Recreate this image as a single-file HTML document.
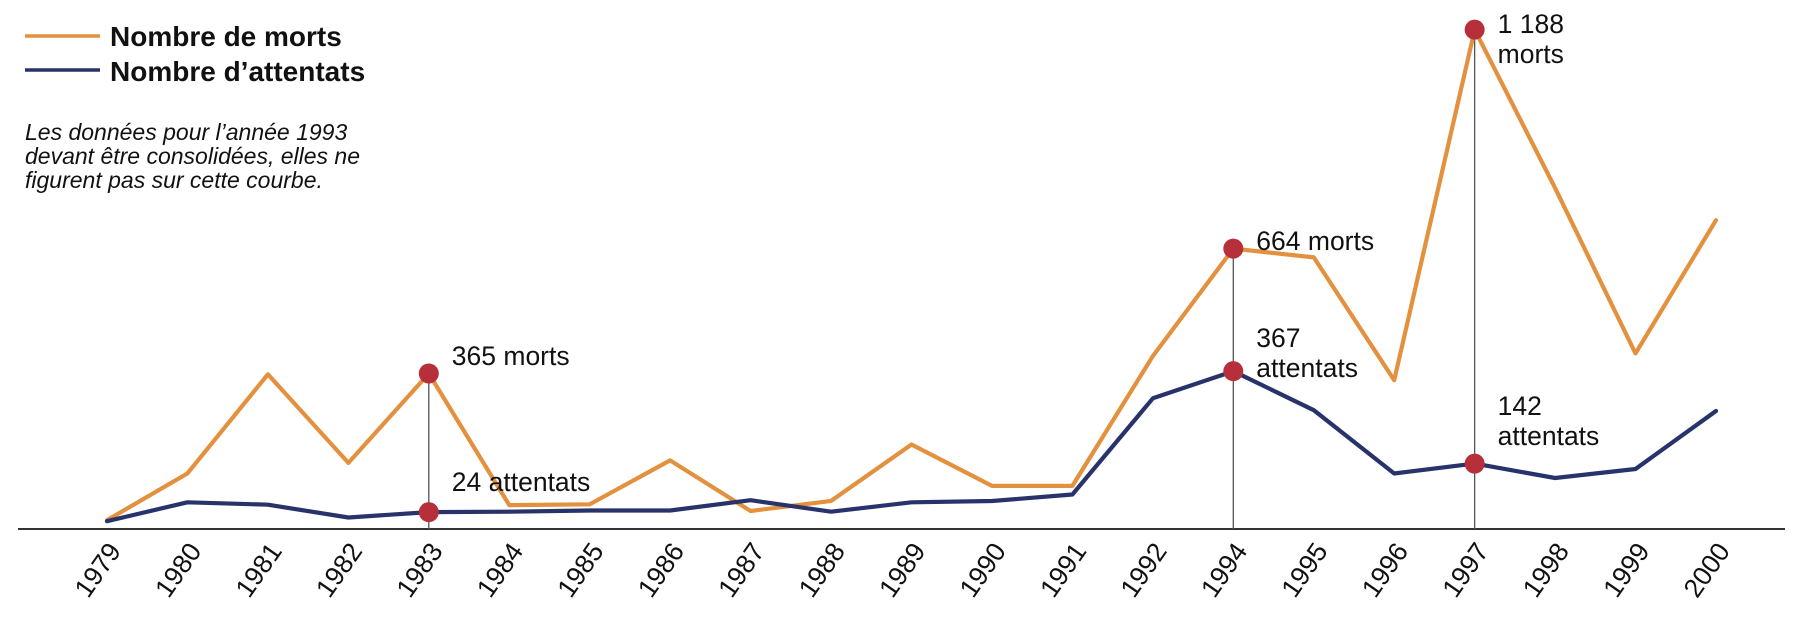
<!DOCTYPE html>
<html><head><meta charset="utf-8"><style>
html,body{margin:0;padding:0;background:#fff;width:1800px;height:628px;overflow:hidden}
svg{display:block;font-family:"Liberation Sans",sans-serif}
</style></head><body>
<svg id="chart" width="1800" height="628" viewBox="0 0 1800 628">
<g>
<line x1="25" y1="36" x2="100" y2="36" stroke="#e3913f" stroke-width="3.5"/>
<text x="110" y="46" font-size="28" font-weight="bold" fill="#111">Nombre de morts</text>
<line x1="25" y1="70" x2="100" y2="70" stroke="#27336a" stroke-width="3.5"/>
<text x="110" y="81" font-size="28" font-weight="bold" fill="#111">Nombre d’attentats</text>
</g>
<g font-size="23" font-style="italic" fill="#111">
<text x="25" y="140">Les données pour l’année 1993</text>
<text x="25" y="164">devant être consolidées, elles ne</text>
<text x="25" y="188">figurent pas sur cette courbe.</text>
</g>
<line x1="18" y1="529" x2="1785" y2="529" stroke="#333" stroke-width="2"/>
<g id="ticks"></g>
<g id="guides"></g>
<g id="lines"></g>
<g id="dots"></g>
<g id="annots" font-size="26.5" fill="#111"></g>
</svg>
<script>
const years = ["1979","1980","1981","1982","1983","1984","1985","1986","1987","1988","1989","1990","1991","1992","1994","1995","1996","1997","1998","1999","2000"];
const morts = [14,126,363,151,365,50,52,157,36,60,195,96,96,407,664,643,349,1188,809,413,732];
const attentats = [2,48,42,11,24,25,28,28,53,25,48,51,67,301,367,272,118,142,107,129,270];
const highlighted = ["1983","1994","1997"];
const NS="http://www.w3.org/2000/svg";
function xPos(i){return 107+i*80.45;}
function yMorts(v){return 526-0.4178*v;}
function yAtt(v){return 522-0.411*v;}
function mk(t,a,p){const e=document.createElementNS(NS,t);for(const k in a)e.setAttribute(k,a[k]);p.appendChild(e);return e;}
const ticks=document.getElementById('ticks'),guides=document.getElementById('guides'),lines=document.getElementById('lines'),dots=document.getElementById('dots'),annots=document.getElementById('annots');
years.forEach((y,i)=>{
  const t=mk('text',{x:xPos(i)+15,y:551,'font-size':26.5,fill:'#111','text-anchor':'end',transform:`rotate(-55 ${xPos(i)+15} 551)`},ticks);
  t.textContent=y;
  
  
});
function path(vals,fy,color,name){
  const d=vals.map((v,i)=>(i?'L':'M')+xPos(i).toFixed(1)+' '+fy(v).toFixed(1)).join(' ');
  const p=mk('path',{d:d,fill:'none',stroke:color,'stroke-width':4.2,'stroke-linejoin':'round','stroke-linecap':'round'},lines);
  
  
}
path(morts,yMorts,'#e3913f','line-morts');
path(attentats,yAtt,'#27336a','line-attentats');
highlighted.forEach(h=>{
  const i=years.indexOf(h);
  const g=mk('line',{x1:xPos(i),x2:xPos(i),y1:yMorts(morts[i]),y2:529,stroke:'#555','stroke-width':1.3},guides);
  
  
  [yMorts(morts[i]),yAtt(attentats[i])].forEach(cy=>{
    const c=mk('circle',{cx:xPos(i),cy:cy,r:10,fill:'#b72f3a'},dots);
    
    
  });
});
const annotLines=[
  ["1983",365,["365 morts"]],
  ["1983",491,["24 attentats"]],
  ["1994",250,["664 morts"]],
  ["1994",347,["367","attentats"]],
  ["1997",33,["1 188","morts"]],
  ["1997",415,["142","attentats"]]
];
annotLines.forEach(a=>{
  const i=years.indexOf(a[0]);
  a[2].forEach((s,k)=>{
    const t=mk('text',{x:xPos(i)+23,y:a[1]+k*30},annots);
    t.textContent=s;
    
    
  });
});
</script>
</body></html>
